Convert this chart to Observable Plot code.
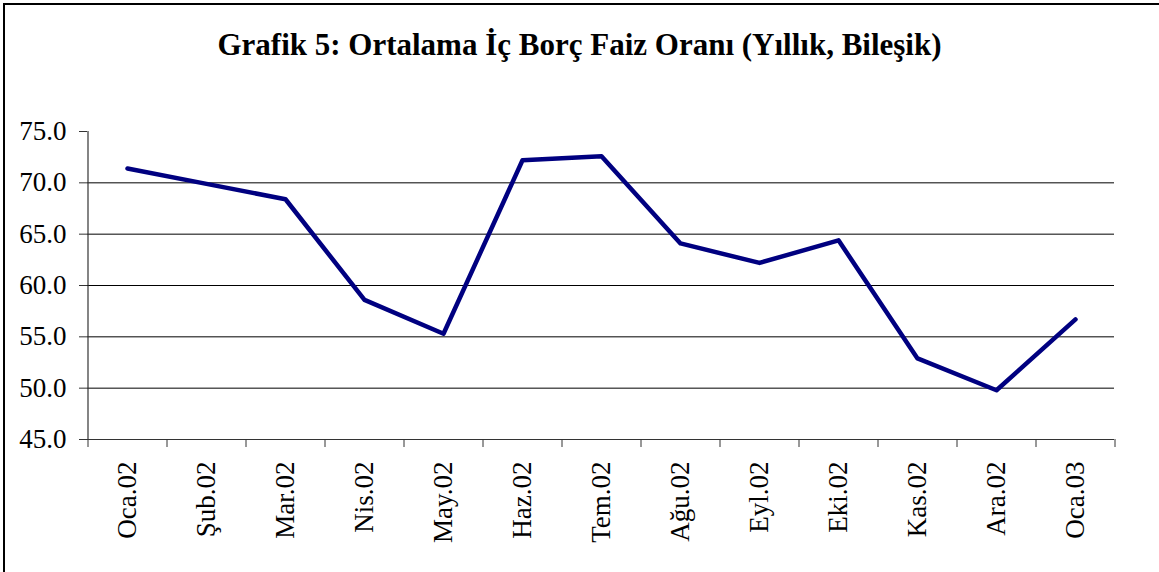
<!DOCTYPE html>
<html>
<head>
<meta charset="utf-8">
<script src="https://cdn.jsdelivr.net/npm/d3@7"></script>
<script src="https://cdn.jsdelivr.net/npm/@observablehq/plot@0.6"></script>
<style>
  html, body { margin: 0; padding: 0; background: #fff; width: 1159px; height: 572px; overflow: hidden; }
  #frame { position: absolute; left: 3px; top: 3px; width: 1160px; height: 580px; border-left: 2px solid #000; border-top: 2px solid #000; box-sizing: border-box; }
  #title { position: absolute; left: 0; top: 29px; width: 1159px; text-align: center; font: bold 31px "Liberation Serif", serif; line-height: 31px; color: #000; white-space: nowrap; }
  #chart { position: absolute; left: 0; top: 0; }
</style>
</head>
<body>
<div id="frame"></div>
<div id="chart"></div>
<div id="title">Grafik 5: Ortalama İç Borç Faiz Oranı (Yıllık, Bileşik)</div>
<script>
const months = ["Oca.02","Şub.02","Mar.02","Nis.02","May.02","Haz.02","Tem.02","Ağu.02","Eyl.02","Eki.02","Kas.02","Ara.02","Oca.03"];
const rates = [71.4, 69.9, 68.4, 58.6, 55.3, 72.2, 72.6, 64.1, 62.2, 64.4, 52.9, 49.8, 56.7];
const yTicks = [45, 50, 55, 60, 65, 70, 75];
const gridValues = [50, 55, 60, 65, 70];

const W = 1159, H = 572, mL = 87, mR = 45, mT = 131, mB = 133;
const half = (W - mL - mR) / months.length / 2;
const data = months.map((m, i) => ({month: m, rate: rates[i]}));
const serif = "'Liberation Serif', 'Times New Roman', serif";

const chart = Plot.plot({
  width: W, height: H,
  marginLeft: mL, marginRight: mR, marginTop: mT, marginBottom: mB,
  style: "font-family: 'Liberation Serif', serif; font-size: 27px; background: transparent; color: #000; overflow: visible;",
  x: {type: "point", domain: months, padding: 0.5},
  y: {domain: [45, 75]},
  marks: [
    Plot.ruleY(gridValues, {stroke: "#000", strokeWidth: 1}),
    Plot.ruleY([45], {stroke: "#333", strokeWidth: 1.2}),
    Plot.ruleX([months[0]], {dx: -half, y1: 45, y2: 75, stroke: "#333", strokeWidth: 1.2}),
    Plot.axisY(yTicks, {tickSize: 8, tickPadding: 13, tickFormat: d => d.toFixed(1), label: null, stroke: "#333", fill: "#000", fontSize: 27, fontFamily: serif}),
    Plot.axisX(months, {tickSize: 8, dx: -half, tickFormat: () => "", label: null, stroke: "#333"}),
    Plot.axisX([months[months.length - 1]], {tickSize: 8, dx: half, tickFormat: () => "", label: null, stroke: "#333"}),
    Plot.axisX(months, {tickSize: 0, tickPadding: 22, tickRotate: -90, label: null, fill: "#000", fontSize: 27, fontFamily: serif}),
    Plot.line(data, {x: "month", y: "rate", stroke: "#000080", strokeWidth: 4.5, strokeLinejoin: "round", strokeLinecap: "round"})
  ]
});
document.getElementById("chart").appendChild(chart);
</script>
</body>
</html>
